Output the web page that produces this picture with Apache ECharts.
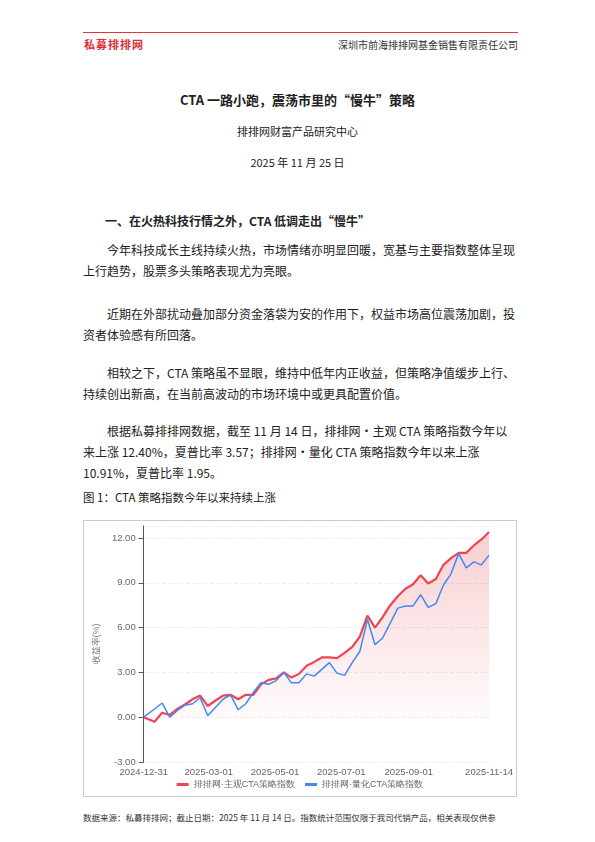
<!DOCTYPE html>
<html>
<head>
<meta charset="UTF-8">
<script src="https://cdn.jsdelivr.net/npm/echarts@6/dist/echarts.min.js"></script>
<style>
  html,body {margin:0; padding:0; background:#fff;}
  body {width:595px; height:842px; position:relative; font-family:"Noto Sans CJK SC",sans-serif; color:#222;}
  .hdline {position:absolute; left:83px; top:32px; width:435px; border-top:1px solid #e5333c;}
  .logo {position:absolute; left:84px; top:36px; font-size:11px; font-weight:bold; color:#d9303a; letter-spacing:1px;}
  .comp {position:absolute; right:77px; top:37px; font-size:10px; color:#333;}
  .c {position:absolute; left:0; width:595px; text-align:center;}
  .p {position:absolute; left:83px; width:435px; font-size:12px; line-height:21px; text-indent:2em; margin:0;}
  .sec {position:absolute; left:105px; top:212px; font-size:12px; font-weight:bold;}
  .cap {position:absolute; left:83px; top:489px; font-size:11.5px;}
  #chart {position:absolute; left:83px; top:520px; width:434px; height:277px; border:1px solid #ccc; box-sizing:border-box;}
  .foot {position:absolute; left:83px; top:811px; font-size:8.5px; color:#333; white-space:nowrap;}
</style>
</head>
<body>
  <div class="hdline"></div>
  <div class="logo">私募排排网</div>
  <div class="comp">深圳市前海排排网基金销售有限责任公司</div>
  <div class="c" style="top:90px;font-size:13px;font-weight:bold;">CTA 一路小跑，震荡市里的“慢牛”策略</div>
  <div class="c" style="top:123px;font-size:11px;">排排网财富产品研究中心</div>
  <div class="c" style="top:154px;font-size:11px;">2025 年 11 月 25 日</div>
  <div class="sec">一、在火热科技行情之外，CTA 低调走出“慢牛”</div>
  <p class="p" style="top:239px;">今年科技成长主线持续火热，市场情绪亦明显回暖，宽基与主要指数整体呈现上行趋势，股票多头策略表现尤为亮眼。</p>
  <p class="p" style="top:303px;">近期在外部扰动叠加部分资金落袋为安的作用下，权益市场高位震荡加剧，投资者体验感有所回落。</p>
  <p class="p" style="top:362px;">相较之下，CTA 策略虽不显眼，维持中低年内正收益，但策略净值缓步上行、持续创出新高，在当前高波动的市场环境中或更具配置价值。</p>
  <p class="p" style="top:420px;">根据私募排排网数据，截至 11 月 14 日，排排网·主观 CTA 策略指数今年以来上涨 12.40%，夏普比率 3.57；排排网·量化 CTA 策略指数今年以来上涨 10.91%，夏普比率 1.95。</p>
  <div class="cap">图 1：CTA 策略指数今年以来持续上涨</div>
  <div id="chart"></div>
  <div class="foot">数据来源：私募排排网；截止日期：2025 年 11 月 14 日。指数统计范围仅限于我司代销产品，相关表现仅供参</div>
<script>
var dates = ['2024-12-31','2025-01-10','2025-01-17','2025-01-24','2025-01-31','2025-02-07','2025-02-14','2025-02-21',
  '2025-02-28','2025-03-07','2025-03-14','2025-03-21','2025-03-28','2025-04-04','2025-04-11','2025-04-18','2025-04-25',
  '2025-05-02','2025-05-09','2025-05-16','2025-05-23','2025-05-30','2025-06-06','2025-06-13','2025-06-20','2025-06-27',
  '2025-07-04','2025-07-11','2025-07-18','2025-07-25','2025-08-01','2025-08-08','2025-08-15','2025-08-22','2025-08-29',
  '2025-09-05','2025-09-12','2025-09-19','2025-09-26','2025-10-03','2025-10-10','2025-10-17','2025-10-24','2025-10-31',
  '2025-11-07','2025-11-14'];
var subjective = [0,-0.3,0.3,0.15,0.55,0.85,1.2,1.45,0.75,1.1,1.45,1.5,1.2,1.5,1.5,2.2,2.5,2.6,3.0,2.65,2.9,3.45,3.7,
  4.0,4.0,3.95,4.3,4.7,5.4,6.8,6.0,6.7,7.5,8.1,8.6,8.9,9.5,8.95,9.25,10.2,10.65,11.0,11.0,11.5,11.9,12.4];
var quant = [0,0.55,0.95,0.0,0.45,0.8,0.9,1.3,0.1,0.65,1.2,1.5,0.5,0.9,1.65,2.3,2.2,2.45,3.0,2.3,2.3,2.9,2.75,3.2,
  3.65,2.95,2.8,3.65,4.4,6.55,4.85,5.3,6.3,7.3,7.45,7.45,8.2,7.35,7.6,8.85,9.6,10.95,10.0,10.4,10.2,10.85];
var tickDates = ['2024-12-31','2025-03-01','2025-05-01','2025-07-01','2025-09-01','2025-11-14'];
var seriesNames = ['排排网·主观CTA策略指数','排排网·量化CTA策略指数'];

function ts(d) { return Date.UTC(+d.slice(0, 4), +d.slice(5, 7) - 1, +d.slice(8, 10)); }
function pairs(vals) { return dates.map(function (d, i) { return [ts(d), vals[i]]; }); }
function fmt(v) {
  var t = new Date(v), m = t.getUTCMonth() + 1, d = t.getUTCDate();
  return t.getUTCFullYear() + '-' + (m < 10 ? '0' : '') + m + '-' + (d < 10 ? '0' : '') + d;
}

var myChart = echarts.init(document.getElementById('chart'));
myChart.setOption({
  animation: false,
  grid: {left: 58, right: 3, top: 5, bottom: 34},
  legend: {
    bottom: 2, itemWidth: 12, itemHeight: 3, itemGap: 10, icon: 'rect',
    textStyle: {fontSize: 9, color: '#666'}, data: seriesNames
  },
  xAxis: {
    type: 'value',
    min: ts(dates[0]), max: ts(dates[dates.length - 1]),
    axisLine: {show: false}, axisTick: {show: false}, splitLine: {show: false},
    axisLabel: {
      customValues: tickDates.map(ts),
      formatter: fmt,
      fontSize: 9.5, color: '#666', margin: 5, hideOverlap: false
    }
  },
  yAxis: {
    type: 'value', min: -3, max: 12.8, interval: 3,
    name: '收益率(%)', nameLocation: 'middle', nameGap: 38,
    nameTextStyle: {fontSize: 9, color: '#777'},
    axisLabel: {formatter: function (v) { return v.toFixed(2); }, fontSize: 9.5, color: '#666', showMaxLabel: false},
    splitLine: {lineStyle: {type: 'dashed', color: '#eee'}}
  },
  series: [
    {
      name: seriesNames[0], type: 'line', data: pairs(subjective), symbol: 'none', z: 3,
      lineStyle: {width: 2.2, color: '#f04454'}, itemStyle: {color: '#f04454'},
      areaStyle: {color: new echarts.graphic.LinearGradient(0, 0, 0, 1, [
        {offset: 0, color: 'rgba(228,100,105,0.45)'}, {offset: 1, color: 'rgba(240,120,125,0.04)'}])}
    },
    {
      name: seriesNames[1], type: 'line', data: pairs(quant), symbol: 'none', z: 4,
      lineStyle: {width: 1.5, color: '#4287f5'}, itemStyle: {color: '#4287f5'}
    }
  ]
});
</script>
</body>
</html>
